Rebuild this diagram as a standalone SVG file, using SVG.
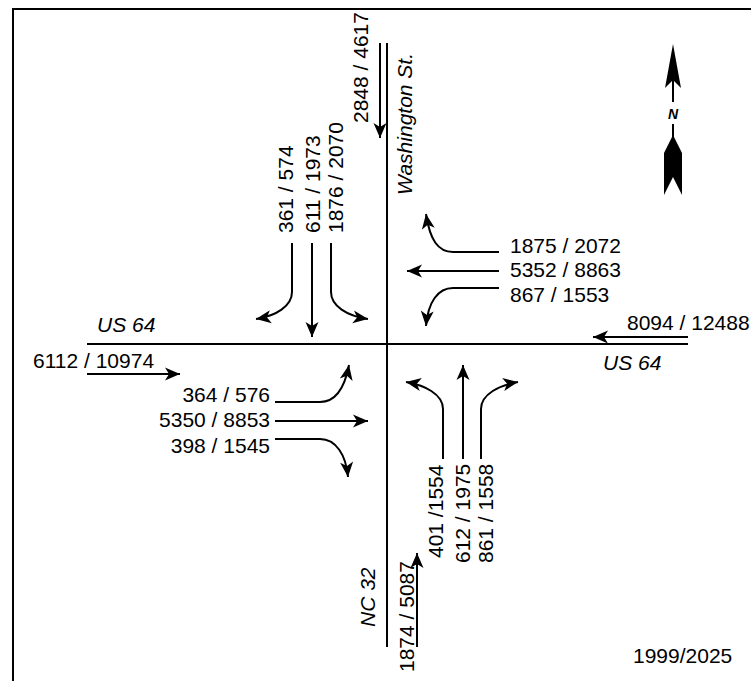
<svg xmlns="http://www.w3.org/2000/svg" width="751" height="681" viewBox="0 0 751 681">
<style>
.t{font-family:"Liberation Sans",Arial,sans-serif;font-size:21px;fill:#000}
.i{font-style:italic}
.e{text-anchor:end}
.ln{fill:none;stroke:#000;stroke-width:2}
.ar{fill:none;stroke:#000;stroke-width:2;marker-end:url(#ah)}
</style>
<defs>
<marker id="ah" markerUnits="userSpaceOnUse" markerWidth="20" markerHeight="16" viewBox="-16 -8 20 16" refX="0" refY="0" orient="auto">
<path d="M0,0 L-15,-6.5 L-11,0 L-15,6.5 Z" fill="#000"/>
</marker>
</defs>
<rect width="751" height="681" fill="#fff"/>
<g id="frame">
<path class="ln" d="M13,681 V9 H751" stroke-width="2.5"/>
</g>
<g id="roads">
<path class="ln" d="M387,43 V647"/>
<path class="ln" d="M87,344 H688"/>
</g>
<g id="connectors">
<path class="ar" d="M380,43 V138"/>
<path class="ar" d="M688,337 H593"/>
<path class="ar" d="M87,374 H180"/>
<path class="ar" d="M417,647 V553"/>
<path class="ar" d="M292,243 V292 C292,306 276,316 256,319"/>
<path class="ar" d="M312,243 V337"/>
<path class="ar" d="M331,243 V292 C331,306 347,316 368,319"/>
<path class="ar" d="M499,252 H453 C438,252 430,240 426,214"/>
<path class="ar" d="M499,271 H407"/>
<path class="ar" d="M499,288 H453 C438,288 428,302 426,326"/>
<path class="ar" d="M275,402 H320 C336,402 345,386 349,365"/>
<path class="ar" d="M275,421 H368"/>
<path class="ar" d="M275,439 H320 C336,439 346,455 348,477"/>
<path class="ar" d="M443,459 V409 C443,394 424,385 406,382"/>
<path class="ar" d="M463,459 V365"/>
<path class="ar" d="M481,459 V409 C481,394 500,385 518,382"/>
</g>
<g id="north">
<polygon points="673,44 681,88 673,80 665,88" fill="#000"/>
<path class="ln" d="M673,80 V102 M673,124 V140"/>
<polygon points="673,135 682,153 682,195 673,177 664,195 664,153" fill="#000"/>
<text x="673" y="119" style="font-family:'Liberation Sans',Arial,sans-serif;font-size:14px;font-weight:bold;font-style:italic;text-anchor:middle">N</text>
</g>
<g id="labels">
<text class="t" x="510" y="253">1875 / 2072</text>
<text class="t" x="510" y="277">5352 / 8863</text>
<text class="t" x="510" y="302">867 / 1553</text>
<text class="t" x="627" y="330">8094 / 12488</text>
<text class="t i" x="603" y="370">US 64</text>
<text class="t i" x="97" y="332">US 64</text>
<text class="t" x="33" y="368">6112 / 10974</text>
<text class="t e" x="270" y="402">364 / 576</text>
<text class="t e" x="270" y="427">5350 / 8853</text>
<text class="t e" x="270" y="453">398 / 1545</text>
<text class="t" x="633" y="663">1999/2025</text>
<text class="t" transform="translate(368,123) rotate(-90)">2848 / 4617</text>
<text class="t i" transform="translate(412,195) rotate(-90)">Washington St.</text>
<text class="t" transform="translate(293,233) rotate(-90)">361 / 574</text>
<text class="t" transform="translate(320,233) rotate(-90)">611 / 1973</text>
<text class="t" transform="translate(343,233) rotate(-90)">1876 / 2070</text>
<text class="t" transform="translate(443,558) rotate(-90)">401 /1554</text>
<text class="t" transform="translate(470,563) rotate(-90)">612 / 1975</text>
<text class="t" transform="translate(493,563) rotate(-90)">861 / 1558</text>
<text class="t i" transform="translate(375,627) rotate(-90)">NC 32</text>
<text class="t" transform="translate(414,672) rotate(-90)">1874 / 5087</text>
</g>
</svg>
